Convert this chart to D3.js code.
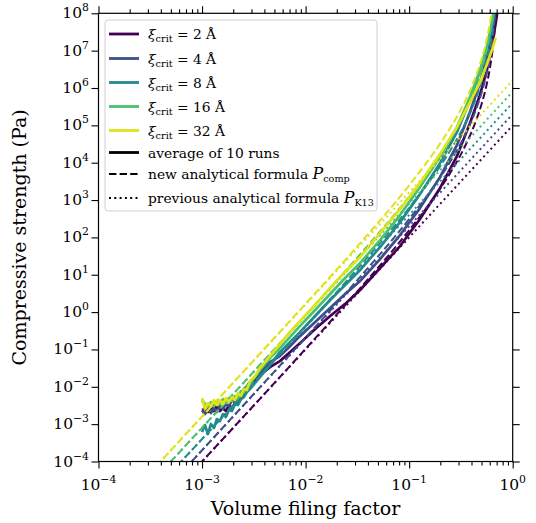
<!DOCTYPE html>
<html>
<head>
<meta charset="utf-8">
<script src="https://cdn.jsdelivr.net/npm/d3@7"></script>
<style>
  body { margin: 0; background: #fff; }
  svg { display: block; font-family: "DejaVu Serif", serif; }
</style>
</head>
<body>
<div id="chart"></div>
<script>
// critical displacement (Å), one colour per value
const xiCrit = [2, 4, 8, 16, 32];

// simulations (average of 10 runs), sampled volume filling factors
const phiSim = [1.00e-3, 1.067e-3, 1.140e-3, 1.218e-3, 1.302e-3, 1.392e-3, 1.488e-3, 1.591e-3, 1.700e-3,
  1.818e-3, 1.943e-3, 2.077e-3, 2.221e-3, 2.374e-3, 2.537e-3, 2.712e-3, 2.900e-3, 3.240e-3, 3.622e-3,
  4.047e-3, 4.522e-3, 5.648e-3, 7.056e-3, 8.811e-3, 1.230e-2, 1.716e-2, 2.394e-2, 3.342e-2, 5.215e-2,
  8.130e-2, 0.1268, 0.1978, 0.2886, 0.3854, 0.4813, 0.5623, 0.6284, 0.6869, 0.7510];
const simXi2 = [2.38e-3, 2.54e-3, 2.11e-3, 2.87e-3, 2.24e-3, 3.05e-3, 2.24e-3, 2.69e-3, 2.24e-3,
  3.24e-3, 2.69e-3, 3.66e-3, 3.44e-3, 4.99e-3, 5.64e-3, 8.69e-3, 1.04e-2, 1.42e-2, 2.06e-2,
  2.63e-2, 3.36e-2, 4.87e-2, 8.47e-2, 0.147, 0.349, 0.776, 1.63, 3.85, 14.9,
  57.8, 305, 2.05e3, 1.47e4, 1.12e5, 6.31e5, 2.94e6, 1.29e7, 5.64e7, 2.97e8];
const simXi4 = [2.38e-3, 1.86e-3, 2.54e-3, 1.98e-3, 2.69e-3, 2.11e-3, 3.05e-3, 2.54e-3, 3.44e-3,
  3.05e-3, 4.40e-3, 3.90e-3, 5.64e-3, 6.38e-3, 8.69e-3, 1.04e-2, 1.34e-2, 1.71e-2, 2.32e-2,
  3.36e-2, 4.57e-2, 6.62e-2, 0.122, 0.227, 0.537, 1.27, 3.01, 6.70, 25.9,
  114, 600, 4.05e3, 2.90e4, 2.21e5, 1.32e6, 6.55e6, 3.05e7, 1.34e8, null];
const simXi8 = [6.15e-4, 9.46e-4, 5.44e-4, 1.01e-3, 7.87e-4, 1.37e-3, 1.21e-3, 1.86e-3, 1.55e-3,
  2.38e-3, 2.24e-3, 3.44e-3, 3.24e-3, 4.69e-3, 5.31e-3, 7.21e-3, 8.69e-3, 1.26e-2, 1.82e-2,
  2.63e-2, 3.80e-2, 8.47e-2, 0.157, 0.290, 0.776, 2.08, 5.24, 13.2, 54.3,
  253, 1.42e3, 9.57e3, 6.46e4, 4.63e5, 2.76e6, 1.14e7, 4.69e7, 1.93e8, null];
const simXi16 = [4.40e-3, 3.44e-3, 2.87e-3, 3.90e-3, 3.05e-3, 4.15e-3, 3.44e-3, 4.69e-3, 3.66e-3,
  4.99e-3, 4.15e-3, 5.64e-3, 4.99e-3, 7.67e-3, 7.21e-3, 1.04e-2, 1.18e-2, 1.82e-2, 2.80e-2,
  4.04e-2, 5.85e-2, 0.108, 0.213, 0.420, 1.12, 3.01, 8.06, 20.3, 83.6,
  390, 2.19e3, 1.39e4, 8.79e4, 5.57e5, 2.94e6, 1.29e7, 5.64e7, 2.47e8, null];
const simXi32 = [4.99e-3, 2.54e-3, 3.66e-3, 3.05e-3, 4.40e-3, 3.24e-3, 4.40e-3, 3.44e-3, 4.99e-3,
  3.90e-3, 5.31e-3, 4.40e-3, 6.80e-3, 5.64e-3, 8.69e-3, 8.17e-3, 1.42e-2, 1.93e-2, 3.16e-2,
  4.57e-2, 6.62e-2, 0.139, 0.290, 0.571, 1.53, 4.35, 11.7, 29.4, 129,
  564, 2.80e3, 1.67e4, 8.79e4, 4.09e5, 1.40e6, 4.25e6, 1.01e7, 2.24e7, null];

// new analytical formula P_comp
const phiComp = [1e-4, 1e-3, 3e-3, 1e-2, 3e-2, 0.1, 0.15, 0.2, 0.25, 0.3, 0.35, 0.4, 0.45, 0.5,
  0.55, 0.6, 0.62, 0.64, 0.66, 0.68, 0.7];
const compXi2 = [1.0e-7, 1.0e-4, 2.7e-3, 0.104, 3.06, 155, 666, 2060, 5380, 1.28e4, 2.93e4, 6.6e4,
  1.51e5, 3.67e5, 9.8e5, 3.19e6, 5.6e6, 1.06e7, 2.28e7, 5.9e7, 2.17e8];
const compXi4 = [2.0e-7, 2.0e-4, 5.5e-3, 0.208, 6.11, 309, 1332, 4120, 1.08e4, 2.57e4, 5.85e4, 1.32e5,
  3.03e5, 7.33e5, 1.97e6, 6.38e6, 1.12e7, 2.13e7, 4.55e7, 1.18e8, 4.35e8];
const compXi8 = [4.0e-7, 4.0e-4, 1.09e-2, 0.417, 12.2, 618, 2660, 8240, 2.15e4, 5.14e4, 1.17e5, 2.64e5,
  6.06e5, 1.47e6, 3.93e6, 1.28e7, 2.24e7, 4.25e7, 9.1e7, 2.36e8, 8.7e8];
const compXi16 = [8.0e-7, 8.0e-4, 2.19e-2, 0.833, 24.5, 1237, 5330, 1.65e4, 4.3e4, 1.03e5, 2.34e5, 5.28e5,
  1.21e6, 2.93e6, 7.86e6, 2.55e7, 4.47e7, 8.5e7, 1.82e8, 4.72e8, 1.74e9];
const compXi32 = [1.6e-6, 1.6e-3, 4.37e-2, 1.67, 48.9, 2470, 1.07e4, 3.29e4, 8.6e4, 2.05e5, 4.68e5, 1.06e6,
  2.42e6, 5.86e6, 1.57e7, 5.1e7, 8.9e7, 1.7e8, 3.64e8, 9.44e8, 3.48e9];

// previous analytical formula P_K13 (straight lines)
const phiK13 = [1e-4, 1];
const k13Xi2 = [1e-7, 1e5];
const k13Xi4 = [2e-7, 2e5];
const k13Xi8 = [4e-7, 4e5];
const k13Xi16 = [8e-7, 8e5];
const k13Xi32 = [1.6e-6, 1.6e6];

const xTicks = [1e-4, 1e-3, 1e-2, 1e-1, 1];
const xTickExp = ['−4', '−3', '−2', '−1', '0'];
const yTicks = [1e-4, 1e-3, 1e-2, 1e-1, 1, 1e1, 1e2, 1e3, 1e4, 1e5, 1e6, 1e7, 1e8];
const yTickExp = ['−4', '−3', '−2', '−1', '0', '1', '2', '3', '4', '5', '6', '7', '8'];

const simData = [simXi2, simXi4, simXi8, simXi16, simXi32];
const compData = [compXi2, compXi4, compXi8, compXi16, compXi32];
const k13Data = [k13Xi2, k13Xi4, k13Xi8, k13Xi16, k13Xi32];
const colors = [0, 0.2375, 0.475, 0.7125, 0.95].map(d3.interpolateViridis);

const width = 536, height = 523;
const plot = { left: 98.5, right: 512.7, top: 13.3, bottom: 461.5 };

const svg = d3.select('#chart').append('svg')
  .attr('width', width).attr('height', height);

const xScale = d3.scaleLog().domain([1e-4, 1]).range([plot.left, plot.right]);
const yScale = d3.scaleLog().domain([1e-4, 1e8]).range([plot.bottom, plot.top]);

svg.append('clipPath').attr('id', 'clip')
  .append('rect')
  .attr('x', plot.left).attr('y', plot.top)
  .attr('width', plot.right - plot.left).attr('height', plot.bottom - plot.top);

const line = d3.line()
  .defined((d) => d[1] != null)
  .x((d) => xScale(d[0]))
  .y((d) => yScale(d[1]));
const smoothLine = d3.line()
  .x((d) => xScale(d[0]))
  .y((d) => yScale(d[1]))
  .curve(d3.curveMonotoneX);

const lines = svg.append('g').attr('clip-path', 'url(#clip)');
xiCrit.forEach((xi, i) => {
  lines.append('path')
    .datum(phiSim.map((p, j) => [p, simData[i][j]]))
    .attr('d', line)
    .attr('fill', 'none')
    .attr('stroke', colors[i])
    .attr('stroke-width', 2.7)
    .attr('stroke-linejoin', 'round');
  lines.append('path')
    .datum(phiComp.map((p, j) => [p, compData[i][j]]))
    .attr('d', smoothLine)
    .attr('fill', 'none')
    .attr('stroke', colors[i])
    .attr('stroke-width', 2)
    .attr('stroke-dasharray', '7.4,3.2');
  lines.append('path')
    .datum(phiK13.map((p, j) => [p, k13Data[i][j]]))
    .attr('d', line)
    .attr('fill', 'none')
    .attr('stroke', colors[i])
    .attr('stroke-width', 2)
    .attr('stroke-dasharray', '2,3.3');
});

// axes: ticks outward on all four sides
const xMinor = [];
for (let e = -4; e < 0; e++) for (let m = 2; m < 10; m++) xMinor.push(m * Math.pow(10, e));

const axisStyle = (g) => {
  g.select('.domain').remove();
  g.selectAll('line').attr('stroke', '#000').attr('stroke-width', 1.1);
  g.selectAll('text').remove();
};
svg.append('g').attr('transform', `translate(0,${plot.bottom})`)
  .call(d3.axisBottom(xScale).tickValues(xTicks).tickSize(7)).call(axisStyle);
svg.append('g').attr('transform', `translate(0,${plot.bottom})`)
  .call(d3.axisBottom(xScale).tickValues(xMinor).tickSize(4)).call(axisStyle);
svg.append('g').attr('transform', `translate(0,${plot.top})`)
  .call(d3.axisTop(xScale).tickValues(xTicks).tickSize(7)).call(axisStyle);
svg.append('g').attr('transform', `translate(0,${plot.top})`)
  .call(d3.axisTop(xScale).tickValues(xMinor).tickSize(4)).call(axisStyle);
svg.append('g').attr('transform', `translate(${plot.left},0)`)
  .call(d3.axisLeft(yScale).tickValues(yTicks).tickSize(7)).call(axisStyle);
svg.append('g').attr('transform', `translate(${plot.right},0)`)
  .call(d3.axisRight(yScale).tickValues(yTicks).tickSize(7)).call(axisStyle);

svg.append('rect')
  .attr('x', plot.left).attr('y', plot.top)
  .attr('width', plot.right - plot.left).attr('height', plot.bottom - plot.top)
  .attr('fill', 'none').attr('stroke', '#000').attr('stroke-width', 1.2);

// tick labels 10^n
const tickFont = 15.5;
xTicks.forEach((t, i) => {
  const txt = svg.append('text')
    .attr('x', xScale(t)).attr('y', 490)
    .attr('text-anchor', 'middle')
    .attr('font-size', tickFont);
  txt.append('tspan').text('10');
  txt.append('tspan').attr('font-size', tickFont * 0.7).attr('dy', -7).text(xTickExp[i]);
});
yTicks.forEach((t, i) => {
  const txt = svg.append('text')
    .attr('x', 89).attr('y', yScale(t) + 5)
    .attr('text-anchor', 'end')
    .attr('font-size', tickFont);
  txt.append('tspan').text('10');
  txt.append('tspan').attr('font-size', tickFont * 0.7).attr('dy', -7).text(yTickExp[i]);
});

// axis titles
svg.append('text')
  .attr('x', (plot.left + plot.right) / 2).attr('y', 515)
  .attr('text-anchor', 'middle').attr('font-size', 19)
  .text('Volume filing factor');
svg.append('text')
  .attr('transform', `translate(26,${(plot.top + plot.bottom) / 2}) rotate(-90)`)
  .attr('text-anchor', 'middle').attr('font-size', 19)
  .text('Compressive strength (Pa)');

// legend
const legend = svg.append('g');
legend.append('rect')
  .attr('x', 105).attr('y', 20).attr('width', 272).attr('height', 191).attr('rx', 3)
  .attr('fill', '#fff').attr('fill-opacity', 0.8)
  .attr('stroke', '#d0d0d0').attr('stroke-width', 1);

const legFont = 13.8;
const rowY = [34, 58.5, 82.5, 106.5, 130.5, 152.5, 174, 198];
xiCrit.forEach((xi, i) => {
  legend.append('line')
    .attr('x1', 109).attr('x2', 139).attr('y1', rowY[i]).attr('y2', rowY[i])
    .attr('stroke', colors[i]).attr('stroke-width', 2.8);
  const txt = legend.append('text').attr('x', 148).attr('y', rowY[i] + 5).attr('font-size', legFont);
  txt.append('tspan').attr('font-style', 'italic').text('ξ');
  txt.append('tspan').attr('font-size', legFont * 0.7).attr('dy', 3).text('crit');
  txt.append('tspan').attr('dy', -3).text(` = ${xi} Å`);
});
const styleRows = [
  { dash: null, label: 'average of 10 runs', sub: null },
  { dash: '7.4,3.2', label: 'new analytical formula ', sub: 'comp' },
  { dash: '2,3.3', label: 'previous analytical formula ', sub: 'K13' },
];
styleRows.forEach((r, k) => {
  const yy = rowY[5 + k];
  legend.append('line')
    .attr('x1', 109).attr('x2', 139).attr('y1', yy).attr('y2', yy)
    .attr('stroke', '#000').attr('stroke-width', r.dash ? 2 : 2.8)
    .attr('stroke-dasharray', r.dash);
  const txt = legend.append('text').attr('x', 148).attr('y', yy + 5).attr('font-size', legFont);
  txt.append('tspan').text(r.label);
  if (r.sub) {
    txt.append('tspan').attr('font-style', 'italic').attr('font-size', legFont * 1.15).text('P');
    txt.append('tspan').attr('font-size', legFont * 0.7).attr('dy', 3).text(r.sub);
  }
});
</script>
</body>
</html>
